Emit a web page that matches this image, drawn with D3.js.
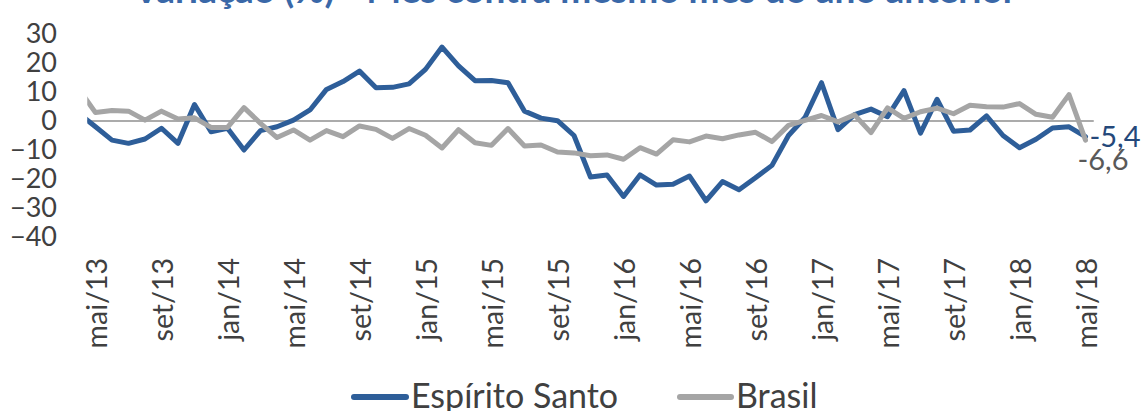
<!DOCTYPE html>
<html>
<head>
<meta charset="utf-8">
<script src="https://cdn.jsdelivr.net/npm/d3@7"></script>
<style>
  html, body { margin: 0; padding: 0; background: #fff; }
  svg { display: block; }
</style>
</head>
<body>
<svg id="chart" width="1144" height="411"></svg>
<script>
// ---- DATA ----
const title = "Variação (%) - Mês contra mesmo mês do ano anterior";
const months = [
  "abr/13","mai/13","jun/13","jul/13","ago/13","set/13","out/13","nov/13","dez/13",
  "jan/14","fev/14","mar/14","abr/14","mai/14","jun/14","jul/14","ago/14","set/14","out/14","nov/14","dez/14",
  "jan/15","fev/15","mar/15","abr/15","mai/15","jun/15","jul/15","ago/15","set/15","out/15","nov/15","dez/15",
  "jan/16","fev/16","mar/16","abr/16","mai/16","jun/16","jul/16","ago/16","set/16","out/16","nov/16","dez/16",
  "jan/17","fev/17","mar/17","abr/17","mai/17","jun/17","jul/17","ago/17","set/17","out/17","nov/17","dez/17",
  "jan/18","fev/18","mar/18","abr/18","mai/18"
];
const tickMonths = ["mai/13","set/13","jan/14","mai/14","set/14","jan/15","mai/15","set/15",
  "jan/16","mai/16","set/16","jan/17","mai/17","set/17","jan/18","mai/18"];
const espiritoSanto = [
  2.6, -2.0, -6.6, -7.7, -6.2, -2.5, -7.7, 5.7, -3.7, -2.5, -10.0, -3.3, -2.0,
  0.3, 3.8, 10.9, 13.6, 17.2, 11.5, 11.6, 12.8, 17.8, 25.5, 19.0, 13.9,
  14.0, 13.2, 3.4, 1.0, 0.1, -5.0, -19.3, -18.6, -26.0, -18.6, -22.1, -21.8,
  -19.0, -27.5, -20.9, -23.7, -19.6, -15.3, -5.0, 1.2, 13.2, -3.0, 2.2, 4.1,
  1.5, 10.5, -4.2, 7.5, -3.5, -3.1, 1.8, -5.0, -9.2, -6.3, -2.4, -2.0, -5.4
];
const brasil = [
  10.9, 2.9, 3.6, 3.4, 0.3, 3.4, 0.7, 1.1, -2.2, -2.2, 4.6, -0.8, -5.7,
  -3.1, -6.6, -3.3, -5.4, -1.7, -2.9, -6.0, -2.6, -4.9, -9.3, -3.0, -7.5,
  -8.4, -2.6, -8.6, -8.3, -10.7, -11.0, -12.0, -11.7, -13.2, -9.2, -11.4, -6.5,
  -7.2, -5.2, -6.1, -4.8, -3.9, -7.1, -1.5, 0.2, 1.9, -0.3, 2.1, -4.0,
  4.5, 0.9, 3.2, 4.4, 2.5, 5.4, 4.9, 4.8, 6.0, 2.3, 1.3, 9.1, -6.6
];
const yTicks = [30, 20, 10, 0, -10, -20, -30, -40];
const lastLabels = ["-5,4", "-6,6"];
const seriesNames = ["Espírito Santo", "Brasil"];

// ---- STYLE ----
const FONT = "Lato, 'Open Sans', sans-serif";
const colors = ["#2E5E99", "#A5A5A5"];
const labelColors = ["#24487A", "#595959"];

const svg = d3.select("#chart");
const plotL = 87.25, plotR = 1093.75, plotT = 34, plotB = 237;

const x = d3.scaleLinear().domain([0.5, months.length - 0.5]).range([plotL, plotR]);
const y = d3.scaleLinear().domain([-40, 30]).range([plotB, plotT]);

// title (cut off at the top, as in the reference)
svg.append("text")
  .attr("x", 575).attr("y", 3)
  .attr("text-anchor", "middle")
  .attr("font-family", FONT).attr("font-size", 37).attr("font-weight", "bold")
  .attr("fill", "#3A68A8")
  .text(title);

// y axis labels
const yAxis = svg.append("g")
  .attr("transform", `translate(57,0)`)
  .call(d3.axisLeft(y).tickValues(yTicks).tickSize(0).tickPadding(0).tickFormat(d3.format("d")));
yAxis.select(".domain").remove();
yAxis.selectAll("text")
  .attr("font-family", FONT).attr("font-size", 27).attr("fill", "#404040");

// zero line
svg.append("line")
  .attr("x1", plotL).attr("x2", plotR)
  .attr("y1", y(0)).attr("y2", y(0))
  .attr("stroke", "#595959").attr("stroke-width", 1.2);

// x axis labels
const xAxis = svg.append("g")
  .attr("transform", `translate(0,258)`)
  .call(d3.axisBottom(x)
    .tickValues(tickMonths.map(m => months.indexOf(m)))
    .tickFormat(i => months[i]).tickSize(0).tickPadding(0));
xAxis.select(".domain").remove();
xAxis.selectAll("text")
  .attr("transform", "rotate(-90)")
  .attr("x", 0).attr("y", 0).attr("dy", 10.5)
  .attr("text-anchor", "end")
  .attr("font-family", FONT).attr("font-size", 28.5).attr("fill", "#404040");

// clip
svg.append("clipPath").attr("id", "plotclip")
  .append("rect").attr("x", plotL).attr("y", 0).attr("width", plotR - plotL).attr("height", 411);

const series = [espiritoSanto, brasil];
const line = d3.line().x((d, i) => x(i)).y(d => y(d));
const lines = svg.append("g").attr("clip-path", "url(#plotclip)");
series.forEach((s, k) => {
  lines.append("path")
    .attr("d", line(s))
    .attr("fill", "none")
    .attr("stroke", colors[k])
    .attr("stroke-width", 5)
    .attr("stroke-linejoin", "round")
    .attr("stroke-linecap", "round");
});

// end labels
const lastIdx = months.length - 1;
svg.append("text")
  .attr("x", x(lastIdx) + 4).attr("y", y(espiritoSanto[lastIdx]) + 10)
  .attr("font-family", FONT).attr("font-size", 29).attr("fill", labelColors[0])
  .text(lastLabels[0]);
svg.append("text")
  .attr("x", x(lastIdx) - 8).attr("y", y(brasil[lastIdx]) + 30)
  .attr("font-family", FONT).attr("font-size", 29).attr("fill", labelColors[1])
  .text(lastLabels[1]);

// legend
const legendItems = [{x1: 354, x2: 406, tx: 411}, {x1: 680, x2: 731, tx: 736}];
const lg = svg.append("g");
seriesNames.forEach((name, k) => {
  lg.append("line")
    .attr("x1", legendItems[k].x1).attr("x2", legendItems[k].x2)
    .attr("y1", 397).attr("y2", 397)
    .attr("stroke", colors[k]).attr("stroke-width", 6).attr("stroke-linecap", "round");
  lg.append("text")
    .attr("x", legendItems[k].tx).attr("y", 408)
    .attr("font-family", FONT).attr("font-size", 34).attr("fill", "#404040")
    .text(name);
});
</script>
</body>
</html>
